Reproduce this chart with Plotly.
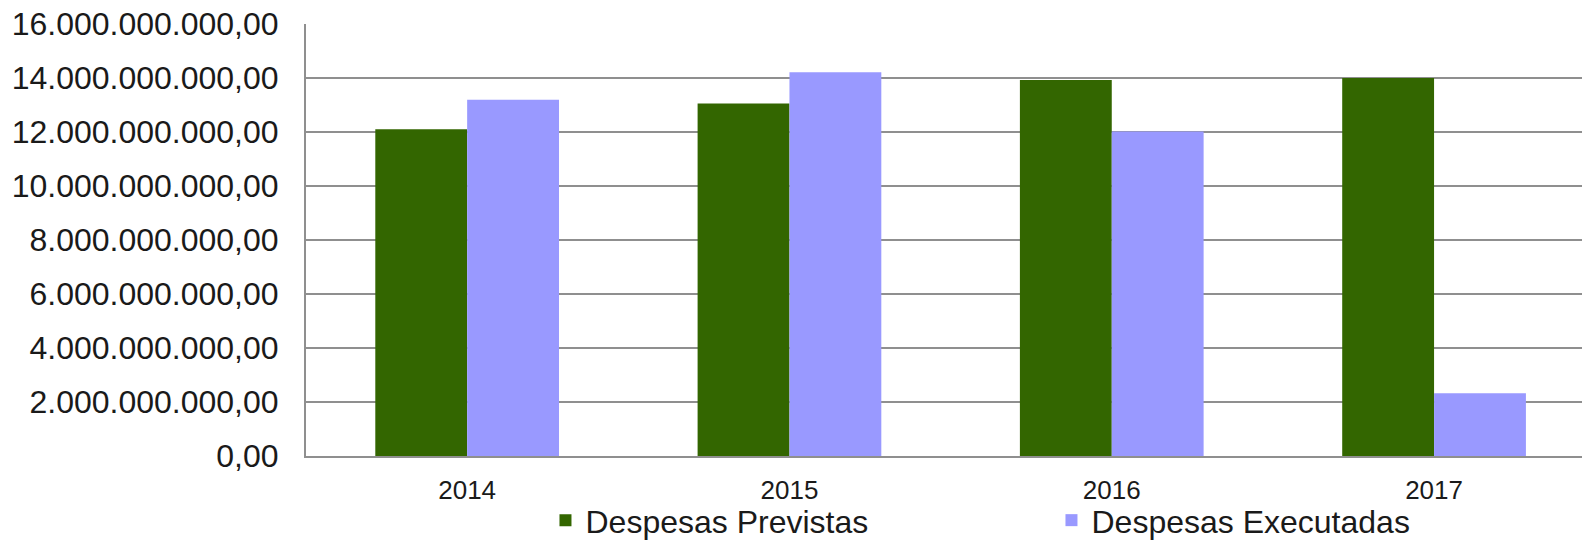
import plotly.graph_objects as go

anos = ["2014", "2015", "2016", "2017"]
despesas_previstas = [12.10e9, 13.06e9, 13.93e9, 14.00e9]
despesas_executadas = [13.19e9, 14.21e9, 12.02e9, 2.32e9]
y_ticks = [0, 2e9, 4e9, 6e9, 8e9, 10e9, 12e9, 14e9, 16e9]

FONT = "Liberation Sans, Arial, sans-serif"
TXT = "#1a1a1a"
GRID = "#8f8f8f"

fig = go.Figure()
fig.add_trace(go.Bar(x=anos, y=despesas_previstas, name="Despesas Previstas",
                     marker=dict(color="#336600", line=dict(width=0))))
fig.add_trace(go.Bar(x=anos, y=despesas_executadas, name="Despesas Executadas",
                     marker=dict(color="#9999FF", line=dict(width=0))))

fig.update_layout(
    width=1582, height=541, autosize=False,
    paper_bgcolor="white", plot_bgcolor="white",
    margin=dict(l=306, r=0, t=24, b=85, autoexpand=False),
    separators=",.",
    barmode="group", bargap=0.43, bargroupgap=0,
    font=dict(family=FONT, color=TXT),
    showlegend=True,
    legend=dict(orientation="h", xref="container", yref="container",
                x=0.3448, xanchor="left", y=0.089, yanchor="top",
                font=dict(size=32, family=FONT, color=TXT),
                entrywidth=461, entrywidthmode="pixels",
                traceorder="normal", bgcolor="rgba(0,0,0,0)"),
)
fig.update_xaxes(type="category", range=[-0.5, 3.459], showgrid=False,
                 showline=True, linecolor=GRID, linewidth=2, ticks="",
                 tickfont=dict(size=26, family=FONT, color=TXT),
                 ticklabelstandoff=10, zeroline=False, automargin=False)
fig.update_yaxes(range=[0, 16e9], tickvals=y_ticks, tickformat=",.2f",
                 showgrid=True, gridcolor=GRID, gridwidth=2,
                 showline=True, linecolor=GRID, linewidth=2, ticks="",
                 tickfont=dict(size=32, family=FONT, color=TXT),
                 ticklabelstandoff=19, zeroline=False, automargin=False)

fig.write_html(
    "out.html",
    config={"displayModeBar": False},
    post_script="document.body.style.margin='0';"
                "document.documentElement.style.overflow='hidden';",
)
